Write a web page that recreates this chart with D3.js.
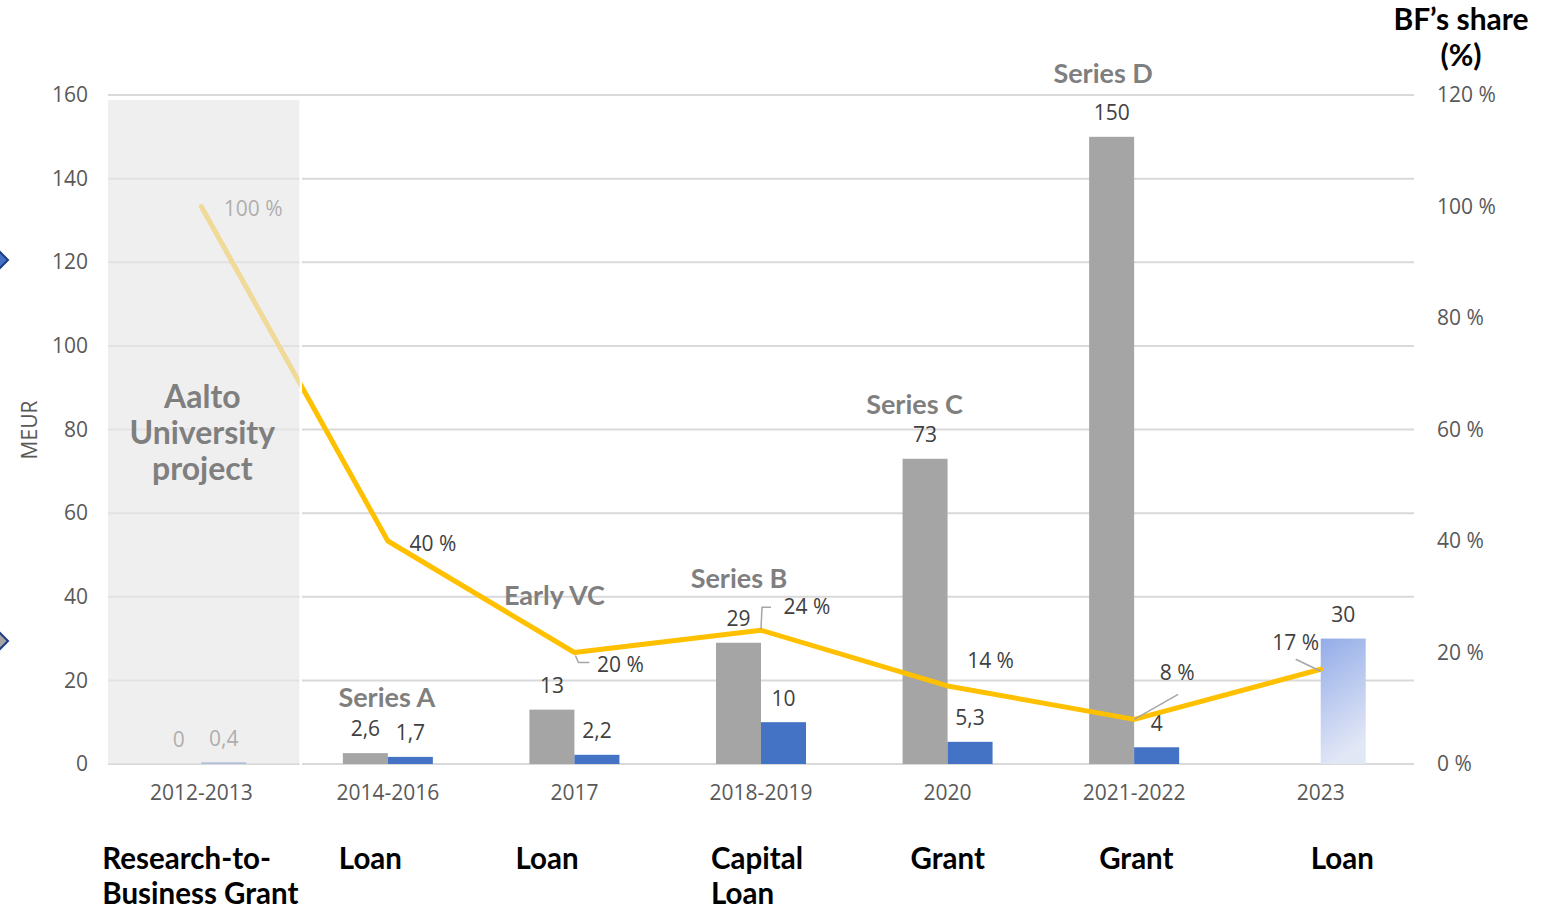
<!DOCTYPE html>
<html>
<head>
<meta charset="utf-8">
<script src="https://cdn.jsdelivr.net/npm/d3@7"></script>
<style>
  body { margin: 0; background: #fff; }
  svg { display: block; }
  .tick text { font-family: "Open Sans", "Noto Sans", sans-serif; font-size: 21px; fill: #595959; }
</style>
</head>
<body>
<svg id="chart" width="1555" height="912"></svg>
<script>
// values
var periods = ["2012-2013", "2014-2016", "2017", "2018-2019", "2020", "2021-2022", "2023"];
var totalRaised = [0, 2.6, 13, 29, 73, 150, null];   // MEUR, grey
var bfFunding = [0.4, 1.7, 2.2, 10, 5.3, 4, 30];      // MEUR, blue
var bfShare = [1.00, 0.40, 0.20, 0.24, 0.14, 0.08, 0.17];
var projected = ["2023"];

var stages = ["", "Series A", "Early VC", "Series B", "Series C", "Series D", ""];
var instruments = [["Research-to-", "Business Grant"], ["Loan"], ["Loan"], ["Capital", "Loan"], ["Grant"], ["Grant"], ["Loan"]];

var meurTicks = [0, 20, 40, 60, 80, 100, 120, 140, 160];
var shareTicks = [0, 0.2, 0.4, 0.6, 0.8, 1.0, 1.2];

// label placement tweaks (px), as in the original slide
var stageOffset = [[0, 0], [-1, -56], [-20, -114], [-22, -64], [-33, -54], [-31, -63], [0, 0]];
var shareLabelOffset = [[52, 2], [45, 3], [46, 12], [46, -24], [43, -25], [43, -47], [-25, -27]];
var instrumentOffset = [-99, -49, -59, -50, -37, -35, -10];

var fi = d3.formatLocale({decimal: ",", thousands: " ", grouping: [3], currency: ["", "€"]});
var fmtNum = fi.format(",");
var fmtPct = function (d) { return Math.round(d * 100) + " %"; };

var svg = d3.select("#chart");
var plotL = 108, plotR = 1414, plotT = 95, plotB = 764;

var x = d3.scaleBand().domain(periods).range([plotL, plotR]).padding(0);
var xs = d3.scaleBand().domain(["total", "bf"]).range([0, 90]);
var y = d3.scaleLinear().domain([0, 160]).range([plotB, plotT]);
var y2 = d3.scaleLinear().domain([0, 1.2]).range([plotB, plotT]);
var cx = function (p) { return x(p) + x.bandwidth() / 2; };

var defs = svg.append("defs");
var grad = defs.append("linearGradient").attr("id", "proj")
    .attr("x1", 0).attr("y1", 0).attr("x2", 0.25).attr("y2", 1);
grad.append("stop").attr("offset", "0%").attr("stop-color", "#93ace8");
grad.append("stop").attr("offset", "100%").attr("stop-color", "#e2e7f6");

// slide decorations cut off at the left edge
svg.selectAll("path.chev")
    .data([["#4472c4", 260], ["#a5a5a5", 641]])
    .enter().append("path")
    .attr("d", function (d) { return "M-14," + d[1] + "L-3," + (d[1] - 11) + "L8," + d[1] + "L-3," + (d[1] + 11) + "Z"; })
    .attr("fill", function (d) { return d[0]; })
    .attr("stroke", "#1f3c88").attr("stroke-width", 2);

// gridlines
svg.append("g").selectAll("line")
    .data(meurTicks)
    .enter().append("line")
    .attr("x1", plotL).attr("x2", plotR)
    .attr("y1", function (d) { return y(d); }).attr("y2", function (d) { return y(d); })
    .attr("stroke", "#d9d9d9").attr("stroke-width", 2);

// axes
var ax = svg.append("g").attr("transform", "translate(" + plotL + ",0)")
    .call(d3.axisLeft(y).tickValues(meurTicks).tickSize(0).tickPadding(20));
ax.select(".domain").remove();

var ax2 = svg.append("g").attr("transform", "translate(" + plotR + ",0)")
    .call(d3.axisRight(y2).tickValues(shareTicks).tickSize(0).tickPadding(23).tickFormat(fmtPct));
ax2.select(".domain").remove();

var axb = svg.append("g").attr("transform", "translate(0," + plotB + ")")
    .call(d3.axisBottom(x).tickSize(0).tickPadding(21));
axb.select(".domain").remove();

svg.append("text")
    .attr("transform", "translate(37,430) rotate(-90)")
    .attr("text-anchor", "middle")
    .style("font-family", "'Open Sans', 'Noto Sans', sans-serif").style("font-size", "21px").style("fill", "#595959")
    .text("MEUR");

// bars
var rows = periods.map(function (p, i) {
    return {period: p, total: totalRaised[i], bf: bfFunding[i], share: bfShare[i], i: i};
});
var barData = [];
rows.forEach(function (r) {
    if (r.total !== null) barData.push({period: r.period, key: "total", v: r.total});
    if (r.bf !== null) barData.push({period: r.period, key: "bf", v: r.bf});
});

var bars = svg.append("g");
bars.selectAll("rect")
    .data(barData)
    .enter().append("rect")
    .attr("x", function (d) { return cx(d.period) - 45 + xs(d.key); })
    .attr("width", xs.bandwidth())
    .attr("y", function (d) { return y(d.v); })
    .attr("height", function (d) { return plotB - y(d.v); })
    .attr("fill", function (d) {
        if (d.key === "total") return "#a5a5a5";
        return projected.indexOf(d.period) >= 0 ? "url(#proj)" : "#4472c4";
    });

bars.selectAll("text")
    .data(barData)
    .enter().append("text")
    .attr("x", function (d) { return cx(d.period) - 45 + xs(d.key) + xs.bandwidth() / 2; })
    .attr("y", function (d) { return y(d.v) - 24; })
    .attr("dy", "0.35em")
    .attr("text-anchor", "middle")
    .style("font-family", "'Open Sans', 'Noto Sans', sans-serif").style("font-size", "21px").style("fill", "#404040")
    .text(function (d) { return fmtNum(d.v); });

// BF share line
var line = d3.line()
    .x(function (d) { return cx(d.period); })
    .y(function (d) { return y2(d.share); });

svg.append("path")
    .datum(rows)
    .attr("d", line)
    .attr("fill", "none")
    .attr("stroke", "#ffc000")
    .attr("stroke-width", 5)
    .attr("stroke-linejoin", "round")
    .attr("stroke-linecap", "round");

// leader lines for shifted percentage labels
var leaders = {
    2: [[1, 3], [4, 10], [15, 10]],
    3: [[0, -1], [1, -23], [10, -23]],
    5: [[0, 0], [44, -25]],
    6: [[0, 2], [-25, -10]]
};
Object.keys(leaders).forEach(function (k) {
    var r = rows[k];
    var px = cx(r.period), py = y2(r.share);
    svg.append("path")
        .attr("d", d3.line()(leaders[k].map(function (o) { return [px + o[0], py + o[1]]; })))
        .attr("fill", "none").attr("stroke", "#a6a6a6").attr("stroke-width", 1.5);
});

svg.append("g").selectAll("text")
    .data(rows)
    .enter().append("text")
    .attr("x", function (d) { return cx(d.period) + shareLabelOffset[d.i][0]; })
    .attr("y", function (d) { return y2(d.share) + shareLabelOffset[d.i][1]; })
    .attr("dy", "0.35em")
    .attr("text-anchor", "middle")
    .style("font-family", "'Open Sans', 'Noto Sans', sans-serif").style("font-size", "21px").style("fill", "#404040")
    .text(function (d) { return fmtPct(d.share); });

// funding stage labels
svg.append("g").selectAll("text")
    .data(rows.filter(function (r) { return stages[r.i] !== ""; }))
    .enter().append("text")
    .attr("x", function (d) { return cx(d.period) + stageOffset[d.i][0]; })
    .attr("y", function (d) { return y(Math.max(d.total || 0, d.bf || 0)) + stageOffset[d.i][1]; })
    .attr("dy", "0.35em")
    .attr("text-anchor", "middle")
    .style("font-family", "Lato, 'Open Sans', sans-serif").style("font-weight", "bold")
    .style("font-size", "27px").style("fill", "#7f7f7f")
    .text(function (d) { return stages[d.i]; });

// Aalto project shading over the first period
var p0 = x(periods[0]);
var panelW = x.bandwidth() + 5;
svg.append("rect")
    .attr("x", p0).attr("y", 100)
    .attr("width", panelW).attr("height", plotB - 100)
    .attr("fill", "#e6e6e6").attr("fill-opacity", 0.66);
svg.append("line")
    .attr("x1", p0 + panelW + 1.2).attr("x2", p0 + panelW + 1.2)
    .attr("y1", 100).attr("y2", plotB + 1)
    .attr("stroke", "#fff").attr("stroke-width", 2.5);

var aalto = svg.append("text")
    .attr("text-anchor", "middle")
    .style("font-family", "Lato, 'Open Sans', sans-serif").style("font-weight", "bold")
    .style("font-size", "32px").style("fill", "#7f7f7f");
["Aalto", "University", "project"].forEach(function (t, i) {
    aalto.append("tspan").attr("x", cx(periods[0]) + 1).attr("y", 408 + i * 36).text(t);
});

// financing instrument labels under the axis
var inst = svg.append("g").selectAll("text")
    .data(rows)
    .enter().append("text")
    .attr("text-anchor", "start")
    .style("font-family", "Lato, 'Open Sans', sans-serif").style("font-weight", "bold")
    .style("font-size", "29.5px").style("fill", "#000");
inst.each(function (d) {
    var t = d3.select(this);
    instruments[d.i].forEach(function (s, j) {
        t.append("tspan")
            .attr("x", cx(d.period) + instrumentOffset[d.i])
            .attr("y", 869 + j * 35)
            .text(s);
    });
});

// right axis title
var rt = svg.append("text")
    .attr("text-anchor", "middle")
    .style("font-family", "Lato, 'Open Sans', sans-serif").style("font-weight", "bold")
    .style("font-size", "30px").style("fill", "#000");
rt.append("tspan").attr("x", 1461).attr("y", 30).text("BF\u2019s share");
rt.append("tspan").attr("x", 1461).attr("y", 66).text("(%)");
</script>
</body>
</html>
